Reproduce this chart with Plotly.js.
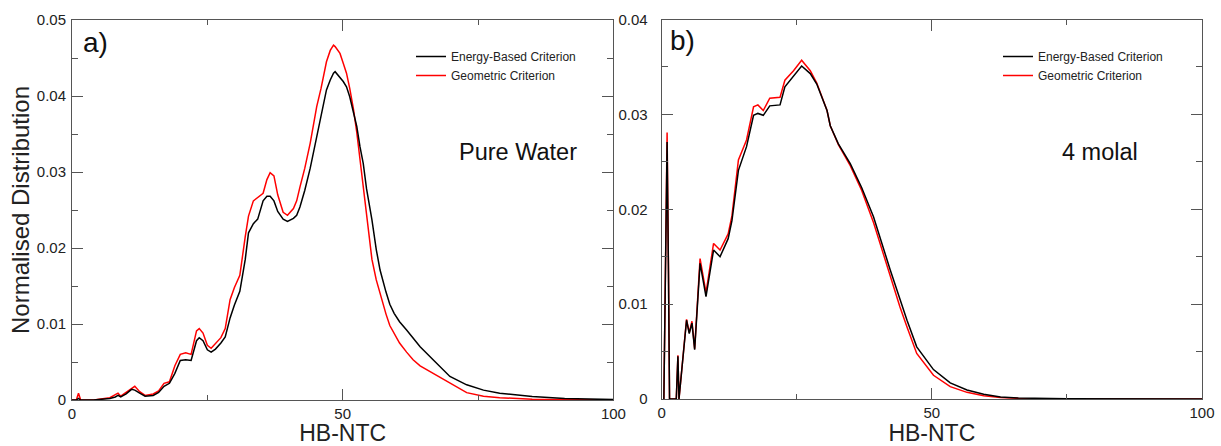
<!DOCTYPE html>
<html>
<head>
<meta charset="utf-8">
<script src="https://cdn.plot.ly/plotly-3.0.1.min.js"></script>
<style>html,body{margin:0;padding:0;background:#fff;}#chart{width:1221px;height:446px;}</style>
</head>
<body>
<div id="chart"></div>
<script>
// ---- Panel a) Pure Water ----
const pureX = [0,0.8,1.2,1.6,4,6,7,8,8.5,9,10,11,11.6,12.5,13.5,15,16,17,18,19,20,21,22,23,23.5,24.2,25,25.7,26.5,27.5,28.3,29.2,30,31,32,32.6,33.5,34.3,35.3,36,36.6,37.3,38,39,39.8,40.9,41.5,42.1,43,44,45.2,46,47,47.7,48.3,48.6,49.5,50.1,50.7,51.3,52,52.6,53.2,53.8,54.4,55.4,56.2,56.9,58,58.7,59.5,60.5,61.8,63,64.3,66.7,69.8,72.9,76,79,85,91,95,100];
const pureEnergy = [0,0,0.0002,0,0,0.0001,0.0002,0.0004,0.0006,0.0004,0.0008,0.0014,0.0013,0.0009,0.0005,0.0006,0.001,0.0018,0.0022,0.0035,0.0052,0.0053,0.0052,0.0078,0.0082,0.0078,0.0066,0.0063,0.0067,0.0075,0.0083,0.0108,0.0125,0.0143,0.0185,0.022,0.0232,0.0238,0.0262,0.0268,0.0268,0.0262,0.0248,0.0238,0.0235,0.0239,0.0243,0.0254,0.0276,0.0305,0.0345,0.0375,0.0408,0.0421,0.043,0.0432,0.0425,0.0419,0.0412,0.0399,0.0378,0.036,0.0333,0.0311,0.0278,0.0237,0.0198,0.0171,0.0142,0.0126,0.0114,0.0103,0.0092,0.0081,0.007,0.0053,0.0031,0.002,0.0013,0.0009,0.00045,0.0002,0.0001,0.00005];
const pureGeom = [0,0,0.0009,0,0,0.0002,0.0003,0.0007,0.0009,0.0005,0.001,0.0016,0.0018,0.0011,0.0006,0.0008,0.0012,0.0022,0.0024,0.0045,0.006,0.0062,0.006,0.0091,0.0094,0.0088,0.0072,0.0068,0.0074,0.0082,0.0094,0.0132,0.0148,0.0164,0.0215,0.0242,0.0262,0.0266,0.0272,0.029,0.0299,0.0295,0.027,0.0247,0.0243,0.0252,0.0262,0.028,0.0305,0.0338,0.0386,0.041,0.0445,0.046,0.0467,0.0465,0.0456,0.0443,0.043,0.041,0.0382,0.0352,0.0316,0.028,0.0241,0.0185,0.0158,0.014,0.0113,0.0098,0.0088,0.0075,0.0063,0.0053,0.0045,0.0035,0.0022,0.00097,0.0005,0.0003,0.0001,0.00005,0.00003,0];

// ---- Panel b) 4 molal ----
const molalX = [0.4,0.6,1.0,1.25,1.45,2.7,3.0,3.2,3.8,4.6,5.1,5.6,6.1,7.1,8.2,9.6,10.8,12.3,13,14.2,15.7,17,17.8,18.8,20,21.9,22.8,24.4,25.9,27.5,28.7,30.6,31.2,32.7,34.9,37,39.2,42.3,44.1,45.4,47.2,50.3,53.4,56.5,59.6,62.7,66,75,100];
const molalEnergy = [0,0.0088,0.0271,0.0135,0,0,0.0045,0,0.0035,0.0083,0.0069,0.008,0.0052,0.0143,0.0108,0.0157,0.015,0.0169,0.0188,0.0241,0.0266,0.0299,0.0301,0.0299,0.0309,0.031,0.0329,0.0341,0.0351,0.0343,0.0332,0.0304,0.0288,0.0269,0.0248,0.0223,0.0192,0.0136,0.0104,0.0083,0.0055,0.0031,0.0017,0.00095,0.0005,0.0002,0.0001,0.00003,0];
const molalGeom = [0,0.0092,0.0281,0.014,0,0,0.0046,0,0.0035,0.0084,0.007,0.0082,0.0053,0.0148,0.0112,0.0164,0.0157,0.0174,0.0193,0.0252,0.0273,0.0308,0.031,0.0304,0.0317,0.0318,0.0336,0.0346,0.0357,0.0346,0.0333,0.0304,0.0288,0.0268,0.0246,0.022,0.0186,0.0128,0.0097,0.0076,0.0048,0.0025,0.0013,0.0007,0.00035,0.00015,0.00007,0.00001,0];

const seriesNames = ["Energy-Based Criterion", "Geometric Criterion"];
const xTitle = "HB-NTC";
const yTitle = "Normalised Distribution";

const FONT = "Liberation Sans, Arial, Helvetica, sans-serif";
const AX = "#555";

const traces = [
  {x: pureX, y: pureGeom, name: seriesNames[1], type: "scatter", mode: "lines", line: {color: "#ff0000", width: 1.5}, xaxis: "x", yaxis: "y", legend: "legend", legendrank: 2},
  {x: pureX, y: pureEnergy, name: seriesNames[0], type: "scatter", mode: "lines", line: {color: "#000000", width: 1.5}, xaxis: "x", yaxis: "y", legend: "legend", legendrank: 1},
  {x: molalX, y: molalGeom, name: seriesNames[1], type: "scatter", mode: "lines", line: {color: "#ff0000", width: 1.5}, xaxis: "x2", yaxis: "y2", legend: "legend2", legendrank: 2},
  {x: molalX, y: molalEnergy, name: seriesNames[0], type: "scatter", mode: "lines", line: {color: "#000000", width: 1.5}, xaxis: "x2", yaxis: "y2", legend: "legend2", legendrank: 1}
];

function xax(domain, anchor) {
  return {
    domain: domain, anchor: anchor, range: [0, 100], dtick: 50, tick0: 0,
    ticks: "inside", ticklen: 11, tickwidth: 1, tickcolor: AX,
    minor: {dtick: 25, ticks: "inside", ticklen: 5, tickcolor: AX, tickwidth: 1, showgrid: false},
    showline: true, linecolor: AX, linewidth: 1, mirror: "ticks",
    showgrid: false, zeroline: false,
    tickfont: {family: FONT, size: 15, color: "#222"},
    title: {text: xTitle, font: {family: FONT, size: 23, color: "#222"}, standoff: 3}
  };
}
function yax(domain, anchor, top, withTitle, standoff) {
  const a = {
    domain: domain, anchor: anchor, range: [0, top], dtick: 0.01, tick0: 0,
    ticks: "inside", ticklen: 11, tickwidth: 1, tickcolor: AX,
    minor: {dtick: 0.005, ticks: "inside", ticklen: 6, tickcolor: AX, tickwidth: 1, showgrid: false},
    showline: true, linecolor: AX, linewidth: 1, mirror: "ticks",
    showgrid: false, zeroline: false, ticklabelstandoff: standoff,
    tickfont: {family: FONT, size: 15, color: "#222"}
  };
  if (withTitle) a.title = {text: yTitle, font: {family: FONT, size: 24, color: "#222"}, standoff: 0};
  return a;
}

const layout = {
  width: 1221, height: 446,
  margin: {l: 0, r: 0, t: 0, b: 0},
  paper_bgcolor: "#fff", plot_bgcolor: "#fff",
  font: {family: FONT, color: "#222"},
  xaxis: xax([72/1221, 613.4/1221], "y"),
  yaxis: yax([46/446, 426/446], "x", 0.05, true, 2),
  xaxis2: xax([661.7/1221, 1202/1221], "y2"),
  yaxis2: yax([47/446, 426.5/446], "x2", 0.04, false, 10),
  legend: {x: 411/1221, y: 1 - 42/446, xanchor: "left", yanchor: "top", bgcolor: "rgba(0,0,0,0)", borderwidth: 0, font: {family: FONT, size: 12, color: "#222"}, tracegroupgap: 0},
  legend2: {x: 998/1221, y: 1 - 42/446, xanchor: "left", yanchor: "top", bgcolor: "rgba(0,0,0,0)", borderwidth: 0, font: {family: FONT, size: 12, color: "#222"}, tracegroupgap: 0},
  annotations: [
    {text: "a)", xref: "paper", yref: "paper", x: 95/1221, y: 1 - 43/446, xanchor: "center", yanchor: "middle", showarrow: false, font: {family: FONT, size: 28, color: "#111"}},
    {text: "b)", xref: "paper", yref: "paper", x: 682.5/1221, y: 1 - 40/446, xanchor: "center", yanchor: "middle", showarrow: false, font: {family: FONT, size: 28, color: "#111"}},
    {text: "Pure Water", xref: "paper", yref: "paper", x: 517.5/1221, y: 1 - 152/446, xanchor: "center", yanchor: "middle", showarrow: false, font: {family: FONT, size: 23.5, color: "#111"}},
    {text: "4 molal", xref: "paper", yref: "paper", x: 1100/1221, y: 1 - 152/446, xanchor: "center", yanchor: "middle", showarrow: false, font: {family: FONT, size: 23.5, color: "#111"}}
  ],
  showlegend: true
};

Plotly.newPlot("chart", traces, layout, {staticPlot: true, displayModeBar: false});
</script>
</body>
</html>
